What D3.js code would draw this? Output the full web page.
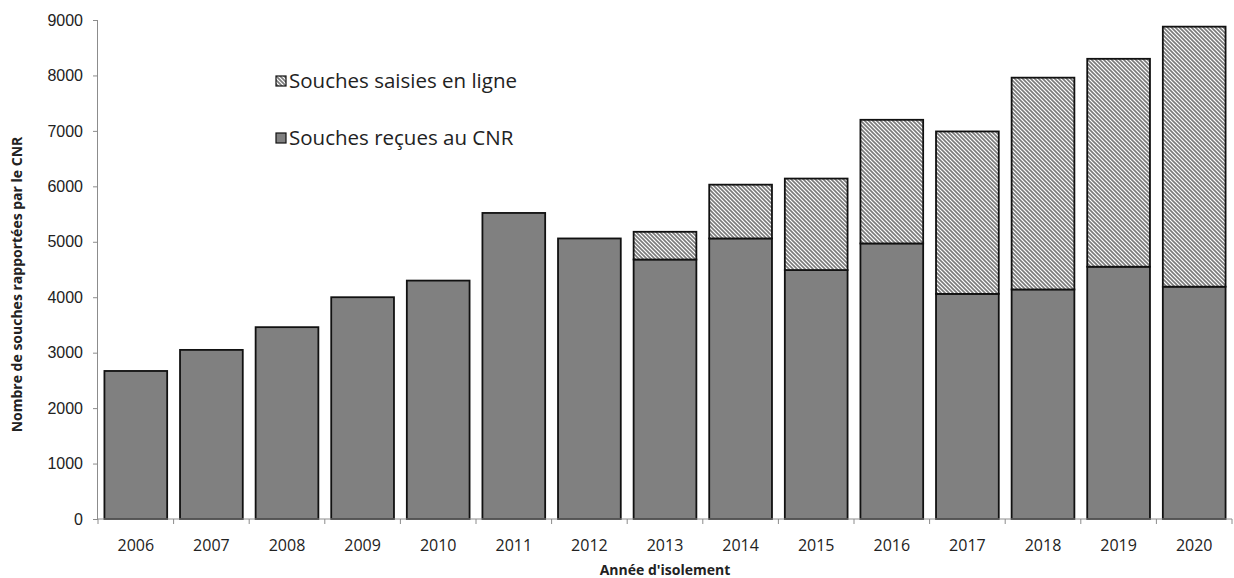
<!DOCTYPE html>
<html>
<head>
<meta charset="utf-8">
<script src="https://cdn.jsdelivr.net/npm/d3@7"></script>
<style>
  html, body { margin: 0; padding: 0; background: #fff; }
  svg { display: block; font-family: "Open Sans", "Liberation Sans", sans-serif; }
</style>
</head>
<body>
<svg id="chart" width="1234" height="578"></svg>
<script>
// Years of isolation
const years = ["2006","2007","2008","2009","2010","2011","2012","2013","2014","2015","2016","2017","2018","2019","2020"];
// Strains received at the CNR
const recues = [2670, 3050, 3460, 4000, 4300, 5520, 5060, 4680, 5060, 4490, 4970, 4060, 4140, 4550, 4190];
// Strains entered online (stacked on top)
const saisies = [0, 0, 0, 0, 0, 0, 0, 500, 970, 1650, 2230, 2930, 3820, 3750, 4690];
const yTicks = [0, 1000, 2000, 3000, 4000, 5000, 6000, 7000, 8000, 9000];
const seriesNames = ["Souches reçues au CNR", "Souches saisies en ligne"];

const svg = d3.select("#chart");
const margin = { left: 98, right: 2, top: 20, bottom: 59 };
const W = 1234, H = 578;

const defs = svg.append("defs");
const pat = defs.append("pattern")
  .attr("id", "hatch")
  .attr("patternUnits", "userSpaceOnUse")
  .attr("width", 4).attr("height", 4);
pat.append("rect").attr("width", 4).attr("height", 4).attr("fill", "#fff");
pat.append("path")
  .attr("d", "M-1,-1 L5,5 M-1,3 L1,5 M3,-1 L5,1")
  .attr("stroke", "#7a7a7a").attr("stroke-width", 1.6);

const x = d3.scaleBand()
  .domain(years)
  .range([margin.left, W - margin.right])
  .paddingInner(0.17)
  .paddingOuter(0.085);

const y = d3.scaleLinear()
  .domain([0, 9000])
  .range([H - margin.bottom, margin.top]);

const data = years.map((yr, i) => ({ year: yr, recues: recues[i], saisies: saisies[i] }));
const stack = d3.stack().keys(["recues", "saisies"]);
const layers = stack(data);
const fills = ["#808080", "url(#hatch)"];

layers.forEach((layer, li) => {
  svg.append("g")
    .selectAll("rect")
    .data(layer.filter(d => d[1] - d[0] > 0))
    .join("rect")
    .attr("x", d => x(d.data.year))
    .attr("width", x.bandwidth())
    .attr("y", d => y(d[1]))
    .attr("height", d => y(d[0]) - y(d[1]))
    .attr("fill", fills[li])
    .attr("stroke", "#111")
    .attr("stroke-width", 1.8);
});

// Axes
const axisColor = "#8c8c8c";
const yAxis = svg.append("g")
  .attr("transform", `translate(${margin.left},0)`)
  .call(d3.axisLeft(y).tickValues(yTicks).tickSize(5).tickPadding(10).tickFormat(d3.format("d")));
yAxis.select(".domain").attr("stroke", axisColor).attr("d", `M-0.5,${y(9000)}V${y(0)}`);
yAxis.selectAll(".tick line").attr("stroke", axisColor);
yAxis.selectAll(".tick text").attr("font-size", 16).attr("fill", "#222");

const xAxisG = svg.append("g").attr("transform", `translate(0,${y(0)})`);
xAxisG.append("line")
  .attr("x1", margin.left).attr("x2", W - margin.right)
  .attr("stroke", axisColor);
const step = x.step();
const bounds = years.map(yr => x(yr) - (step - x.bandwidth()) / 2).concat([x(years[years.length - 1]) + x.bandwidth() + (step - x.bandwidth()) / 2]);
xAxisG.selectAll("line.tk")
  .data(bounds)
  .join("line")
  .attr("class", "tk")
  .attr("x1", d => d).attr("x2", d => d)
  .attr("y1", 0).attr("y2", 5)
  .attr("stroke", axisColor);
xAxisG.selectAll("text")
  .data(years)
  .join("text")
  .attr("x", d => x(d) + x.bandwidth() / 2)
  .attr("y", 32)
  .attr("text-anchor", "middle")
  .attr("font-size", 16)
  .attr("fill", "#222")
  .text(d => d);

// Axis titles
svg.append("text")
  .attr("x", (margin.left + W - margin.right) / 2)
  .attr("y", 575)
  .attr("text-anchor", "middle")
  .attr("font-size", 14)
  .attr("font-weight", "bold")
  .attr("fill", "#222")
  .text("Année d'isolement");

svg.append("text")
  .attr("transform", `translate(22,${(y(0) + y(9000)) / 2 + 15}) rotate(-90)`)
  .attr("text-anchor", "middle")
  .attr("font-size", 14)
  .attr("font-weight", "bold")
  .attr("fill", "#222")
  .text("Nombre de souches rapportées par le CNR");

// Legend
const legendItems = [
  { name: seriesNames[1], fill: "url(#hatch)", cy: 81 },
  { name: seriesNames[0], fill: "#808080", cy: 138 }
];
const lg = svg.append("g");
legendItems.forEach(it => {
  lg.append("rect")
    .attr("x", 276).attr("y", it.cy - 5)
    .attr("width", 10).attr("height", 10)
    .attr("fill", it.fill)
    .attr("stroke", "#111").attr("stroke-width", 1.2);
  lg.append("text")
    .attr("x", 289).attr("y", it.cy + 7)
    .attr("font-size", 20.5)
    .attr("fill", "#222")
    .text(it.name);
});
</script>
</body>
</html>
